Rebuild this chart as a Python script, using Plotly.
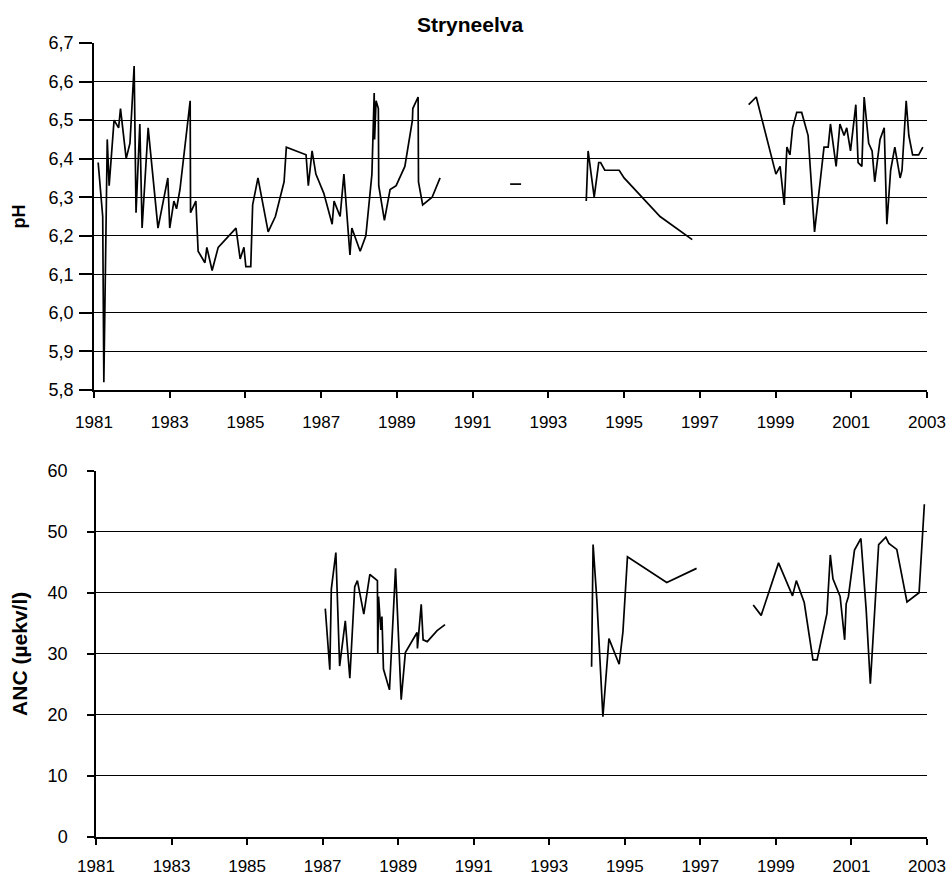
import plotly.graph_objects as go

# pH series (decimal year, value); None breaks the line
ph_year = [1981.11, 1981.23, 1981.26, 1981.35, 1981.40, 1981.53, 1981.65, 1981.70, 1981.85, 1981.95,
           1982.06, 1982.11, 1982.21, 1982.27, 1982.43, 1982.69, 1982.95, 1983.00, 1983.11, 1983.18,
           1983.27, 1983.54, 1983.55, 1983.69, 1983.75, 1983.93, 1983.98, 1984.12, 1984.28, 1984.75,
           1984.86, 1984.96, 1985.01, 1985.14, 1985.19, 1985.33, 1985.60, 1985.79, 1986.02, 1986.08,
           1986.60, 1986.66, 1986.76, 1986.86, 1987.07, 1987.29, 1987.34, 1987.50, 1987.60, 1987.76,
           1987.81, 1988.03, 1988.18, 1988.34, 1988.40, 1988.41, 1988.45, 1988.51, 1988.52, 1988.67,
           1988.82, 1988.98, 1989.21, 1989.41, 1989.42, 1989.56, 1989.57, 1989.68, 1989.93, 1990.14,
           None,
           1991.99, 1992.28,
           None,
           1994.00, 1994.05, 1994.21, 1994.33, 1994.38, 1994.49, 1994.87, 1995.00, 1995.95, 1996.80,
           None,
           1998.29, 1998.49, 1999.01, 1999.12, 1999.23, 1999.30, 1999.38, 1999.45, 1999.56, 1999.69,
           1999.86, 2000.03, 2000.28, 2000.39, 2000.45, 2000.60, 2000.70, 2000.81, 2000.88, 2000.98,
           2001.12, 2001.18, 2001.28, 2001.34, 2001.46, 2001.55, 2001.62, 2001.76, 2001.87, 2001.94,
           2002.04, 2002.15, 2002.29, 2002.34, 2002.45, 2002.52, 2002.62, 2002.78, 2002.89]
ph_value = [6.39, 6.25, 5.82, 6.45, 6.33, 6.50, 6.48, 6.53, 6.40, 6.44,
            6.64, 6.26, 6.49, 6.22, 6.48, 6.22, 6.35, 6.22, 6.29, 6.27,
            6.32, 6.55, 6.26, 6.29, 6.16, 6.13, 6.17, 6.11, 6.17, 6.22,
            6.14, 6.17, 6.12, 6.12, 6.28, 6.35, 6.21, 6.25, 6.34, 6.43,
            6.41, 6.33, 6.42, 6.36, 6.31, 6.23, 6.29, 6.25, 6.36, 6.15,
            6.22, 6.16, 6.20, 6.36, 6.57, 6.45, 6.55, 6.53, 6.33, 6.24,
            6.32, 6.33, 6.38, 6.50, 6.53, 6.56, 6.34, 6.28, 6.30, 6.35,
            None,
            6.334, 6.334,
            None,
            6.29, 6.42, 6.30, 6.39, 6.39, 6.37, 6.37, 6.35, 6.25, 6.19,
            None,
            6.54, 6.56, 6.36, 6.38, 6.28, 6.43, 6.41, 6.48, 6.52, 6.52,
            6.46, 6.21, 6.43, 6.43, 6.49, 6.38, 6.49, 6.46, 6.48, 6.42,
            6.54, 6.39, 6.38, 6.56, 6.44, 6.42, 6.34, 6.45, 6.48, 6.23,
            6.37, 6.43, 6.35, 6.37, 6.55, 6.46, 6.41, 6.41, 6.43]

# ANC series (µekv/l)
anc_year = [1987.07, 1987.19, 1987.23, 1987.35, 1987.45, 1987.60, 1987.72, 1987.85, 1987.92, 1988.09,
            1988.25, 1988.45, 1988.46, 1988.48, 1988.54, 1988.57, 1988.61, 1988.77, 1988.93, 1989.08,
            1989.19, 1989.50, 1989.51, 1989.61, 1989.66, 1989.77, 1990.03, 1990.24,
            None,
            1994.12, 1994.16, 1994.26, 1994.42, 1994.58, 1994.85, 1994.95, 1995.07, 1996.11, 1996.90,
            None,
            1998.40, 1998.61, 1999.07, 1999.44, 1999.54, 1999.75, 1999.98, 2000.09, 2000.35, 2000.44,
            2000.51, 2000.70, 2000.82, 2000.86, 2000.92, 2001.08, 2001.25, 2001.39, 2001.50, 2001.72,
            2001.91, 2001.99, 2002.20, 2002.47, 2002.79, 2002.93]
anc_value = [37.4, 27.4, 40.6, 46.6, 28.0, 35.4, 26.0, 41.0, 42.0, 36.5,
             43.0, 42.0, 30.0, 39.4, 33.9, 36.1, 27.5, 24.1, 44.0, 22.5,
             30.2, 33.5, 30.9, 38.1, 32.3, 32.0, 33.8, 34.8,
             None,
             27.9, 47.9, 38.8, 19.7, 32.5, 28.3, 33.6, 45.9, 41.7, 44.0,
             None,
             38.0, 36.3, 44.9, 39.5, 42.0, 38.4, 29.0, 29.0, 36.6, 46.2,
             42.3, 39.4, 32.3, 38.2, 39.4, 47.0, 48.9, 37.2, 25.1, 47.9,
             49.1, 48.1, 47.1, 38.5, 40.0, 54.5]

title_text = "Stryneelva"
ph_label = "pH"
anc_label = "ANC (µekv/l)"

FONT = "Liberation Sans, Arial, sans-serif"
TICKFONT = dict(family=FONT, size=18, color="black")
XTICKFONT = dict(family=FONT, size=17, color="black")

fig = go.Figure()
fig.add_trace(go.Scatter(x=ph_year, y=ph_value, mode="lines", connectgaps=False,
                         line=dict(color="black", width=1.7), xaxis="x", yaxis="y",
                         showlegend=False))
fig.add_trace(go.Scatter(x=anc_year, y=anc_value, mode="lines", connectgaps=False,
                         line=dict(color="black", width=1.7), xaxis="x2", yaxis="y2",
                         showlegend=False))

line_common = dict(showline=True, linecolor="black", linewidth=1.5, ticks="outside",
                   tickcolor="black", tickwidth=1.5, tickfont=TICKFONT, automargin=False)
xcommon = dict(line_common, range=[1981, 2003], tick0=1981, dtick=2, tickformat="d",
               ticklen=6, showgrid=False, zeroline=False, tickfont=XTICKFONT)

L, R, T, B = 94, 23, 43, 41
W, H = 950, 878
pw, ph = W - L - R, H - T - B

fig.update_layout(
    width=W, height=H,
    margin=dict(l=L, r=R, t=T, b=B, autoexpand=False),
    paper_bgcolor="white", plot_bgcolor="white",
    separators=", ",
    title=dict(text="<b>" + title_text + "</b>", x=470 / W, xanchor="center",
               y=1 - 25 / H, yanchor="middle", xref="container", yref="container",
               font=dict(family=FONT, size=21, color="black")),
    xaxis=dict(xcommon, domain=[0, 1], anchor="y", ticklabelstandoff=10),
    yaxis=dict(line_common, domain=[(H - B - 390) / ph, 1.0], range=[5.8, 6.7], dtick=0.1,
               tick0=5.8, tickformat=".1f", ticklen=13, ticklabelstandoff=2,
               showgrid=True, gridcolor="black", gridwidth=1.3, zeroline=False, anchor="x",
               title=dict(text="<b>" + ph_label + "</b>", standoff=18,
                          font=dict(family=FONT, size=18, color="black"))),
    xaxis2=dict(xcommon, domain=[(96 - L) / pw, 1], anchor="y2", ticklabelstandoff=7),
    yaxis2=dict(line_common, domain=[0, (H - B - 470.7) / ph], range=[0, 60], dtick=10,
                tick0=0, ticklen=7, ticklabelstandoff=16,
                showgrid=True, gridcolor="black", gridwidth=1.3, zeroline=False, anchor="x2",
                title=dict(text="<b>" + anc_label + "</b>", standoff=14,
                           font=dict(family=FONT, size=21, color="black"))),
)

fig.write_html("out.html")
